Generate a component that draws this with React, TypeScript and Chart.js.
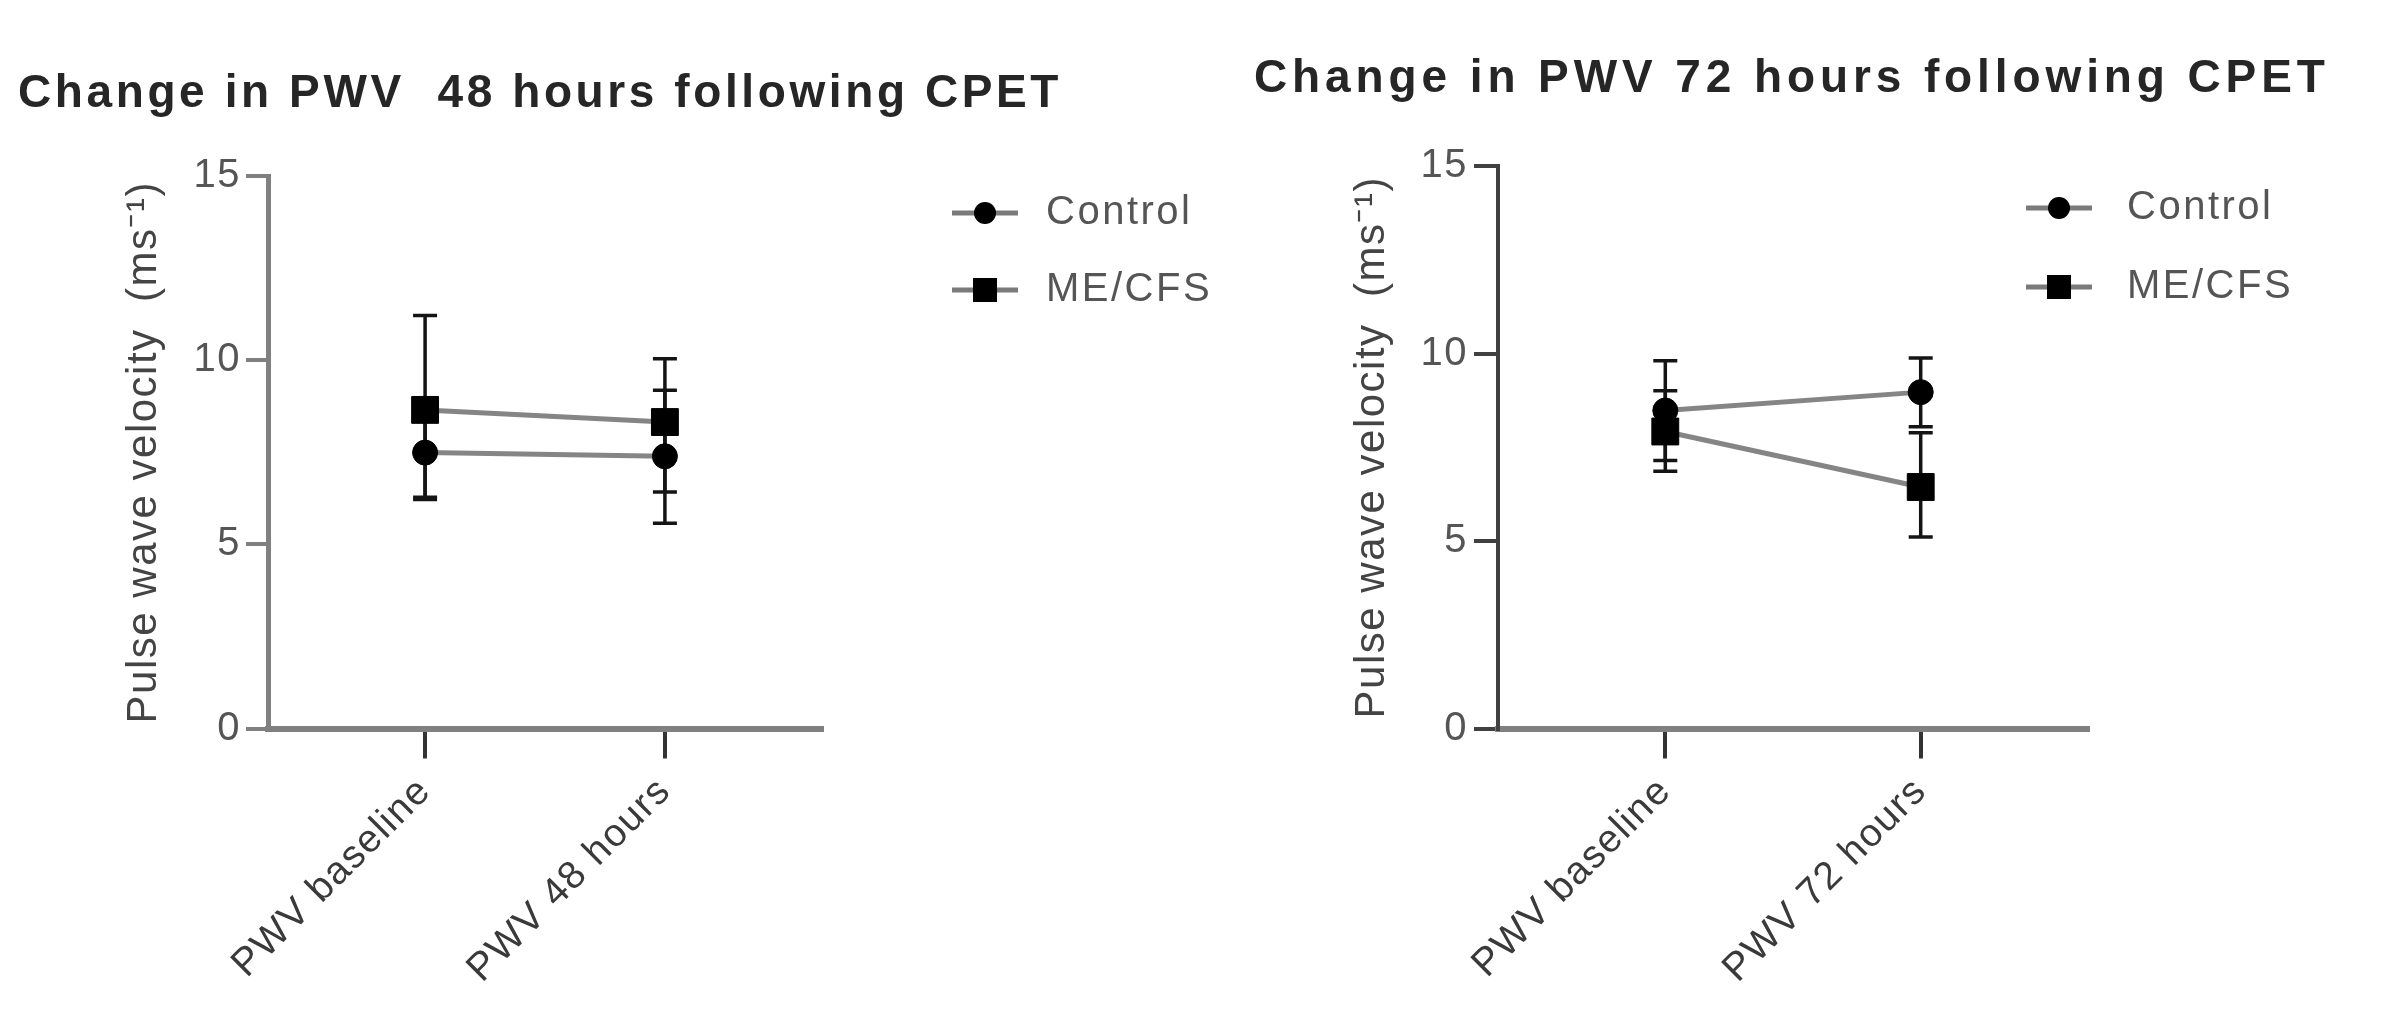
import React, { useEffect, useRef } from "react";
import { Chart, registerables } from "chart.js";

Chart.register(...registerables);

// ---------- data ----------
const seriesNames = ["Control", "ME/CFS"];
const categories48 = ["PWV baseline", "PWV 48 hours"];
const categories72 = ["PWV baseline", "PWV 72 hours"];
const yTickValues = [0, 5, 10, 15];
const title48 = "Change in PWV  48 hours following CPET";
const title72 = "Change in PWV 72 hours following CPET";
const yAxisTitle = "Pulse wave velocity  (ms\u207B\u00B9)";

const control48 = [7.49, 7.39];
const control48Low = [6.28, 5.57];
const control48High = [8.7, 9.18];
const mecfs48 = [8.65, 8.32];
const mecfs48Low = [6.22, 6.42];
const mecfs48High = [11.21, 10.04];

const control72 = [8.48, 8.97];
const control72Low = [7.15, 8.05];
const control72High = [9.81, 9.88];
const mecfs72 = [7.92, 6.44];
const mecfs72Low = [6.86, 5.11];
const mecfs72High = [9.01, 7.89];

// ---------- styling ----------
const FONT = '"Liberation Sans", Arial, Helvetica, sans-serif';
const H = 1031;

type Cfg = {
  left: number;
  width: number;
  title: string;
  titleX: number;
  titleY: number;
  titleSpacing: number;
  categories: string[];
  control: number[];
  controlLow: number[];
  controlHigh: number[];
  mecfs: number[];
  mecfsLow: number[];
  mecfsHigh: number[];
  areaLeft: number;
  areaRight: number;
  areaTop: number;
  areaBottom: number;
  yTitleX: number;
  yLabelPad: number;
  yTickLen: number;
  yBorderColor: string;
  yBorderWidth: number;
  legendMarkerX: number;
  legendYs: number[];
  legendTextX: number;
};

function PwvChart({ cfg }: { cfg: Cfg }) {
  const ref = useRef<HTMLCanvasElement | null>(null);

  useEffect(() => {
    if (!ref.current) return;
    const errLows = [cfg.controlLow, cfg.mecfsLow];
    const errHighs = [cfg.controlHigh, cfg.mecfsHigh];

    const spacingPlugin = {
      id: "spacing",
      beforeDraw(chart: any) {
        try {
          (chart.ctx as any).letterSpacing = "1.5px";
        } catch (e) {}
      },
    };

    const errorBarPlugin = {
      id: "errorBars",
      beforeDatasetsDraw(chart: any) {
        const ctx = chart.ctx;
        const xs = chart.scales.x;
        const ys = chart.scales.y;
        ctx.save();
        ctx.strokeStyle = "#141414";
        ctx.lineWidth = 3.5;
        errLows.forEach((lows, di) => {
          const highs = errHighs[di];
          lows.forEach((lo, i) => {
            const hi = highs[i];
            const px = xs.getPixelForValue(i);
            const pLo = ys.getPixelForValue(lo);
            const pHi = ys.getPixelForValue(hi);
            ctx.beginPath();
            ctx.moveTo(px, pLo);
            ctx.lineTo(px, pHi);
            ctx.moveTo(px - 12, pLo);
            ctx.lineTo(px + 12, pLo);
            ctx.moveTo(px - 12, pHi);
            ctx.lineTo(px + 12, pHi);
            ctx.stroke();
          });
        });
        ctx.restore();
      },
    };

    const titleLegendPlugin = {
      id: "titleLegend",
      afterDraw(chart: any) {
        const ctx = chart.ctx;
        ctx.save();
        try {
          (ctx as any).letterSpacing = `${cfg.titleSpacing}px`;
        } catch (e) {}
        ctx.font = `bold 46px ${FONT}`;
        ctx.fillStyle = "#262626";
        ctx.textAlign = "left";
        ctx.textBaseline = "middle";
        ctx.fillText(cfg.title, cfg.titleX, cfg.titleY);
        ctx.restore();

        seriesNames.forEach((name, i) => {
          const y = cfg.legendYs[i];
          const mx = cfg.legendMarkerX;
          ctx.save();
          ctx.strokeStyle = "#7a7a7a";
          ctx.lineWidth = 5;
          ctx.beginPath();
          ctx.moveTo(mx - 33, y);
          ctx.lineTo(mx + 33, y);
          ctx.stroke();
          ctx.fillStyle = "#000";
          if (i === 0) {
            ctx.beginPath();
            ctx.arc(mx, y, 11, 0, Math.PI * 2);
            ctx.fill();
          } else {
            ctx.fillRect(mx - 12, y - 12, 24, 24);
          }
          try {
            (ctx as any).letterSpacing = "2.5px";
          } catch (e) {}
          ctx.font = `40px ${FONT}`;
          ctx.fillStyle = "#555";
          ctx.textAlign = "left";
          ctx.textBaseline = "middle";
          ctx.fillText(name, cfg.legendTextX, y);
          ctx.restore();
        });
      },
    };

    const chart = new Chart(ref.current, {
      type: "line",
      data: {
        datasets: [
          {
            label: seriesNames[0],
            data: cfg.control.map((v, i) => ({ x: i, y: v })),
            borderColor: "#858585",
            borderWidth: 5,
            pointStyle: "circle",
            pointRadius: 12.5,
            pointBackgroundColor: "#000",
            pointBorderColor: "#000",
            pointBorderWidth: 1,
            tension: 0,
          },
          {
            label: seriesNames[1],
            data: cfg.mecfs.map((v, i) => ({ x: i, y: v })),
            borderColor: "#858585",
            borderWidth: 5,
            pointStyle: "rect",
            pointRadius: 19,
            pointBackgroundColor: "#000",
            pointBorderColor: "#000",
            pointBorderWidth: 1,
            tension: 0,
          },
        ],
      } as any,
      options: {
        responsive: false,
        animation: false,
        events: [],
        layout: {
          padding: { left: 0, top: cfg.areaTop, right: cfg.width - cfg.areaRight, bottom: 0 },
        },
        plugins: {
          legend: { display: false },
          title: { display: false },
          tooltip: { enabled: false },
        },
        scales: {
          x: {
            type: "linear",
            min: -0.655,
            max: 1.655,
            afterBuildTicks: (s: any) => {
              s.ticks = cfg.categories.map((_, i) => ({ value: i }));
            },
            afterFit: (s: any) => {
              s.height = H - cfg.areaBottom;
            },
            ticks: {
              autoSkip: false,
              minRotation: 45,
              maxRotation: 45,
              padding: 10,
              color: "#3a3a3a",
              font: { family: FONT, size: 39 },
              callback: (v: any) => cfg.categories[Number(v)] ?? "",
            },
            grid: {
              drawOnChartArea: false,
              drawTicks: true,
              tickLength: 30,
              color: "#333",
              lineWidth: 4,
            },
            border: { display: true, color: "#808080", width: 6 },
          },
          y: {
            type: "linear",
            min: 0,
            max: 15,
            afterBuildTicks: (s: any) => {
              s.ticks = yTickValues.map((v) => ({ value: v }));
            },
            afterFit: (s: any) => {
              s.width = cfg.areaLeft;
            },
            ticks: {
              padding: cfg.yLabelPad,
              color: "#555",
              font: { family: FONT, size: 40 },
            },
            grid: {
              drawOnChartArea: false,
              drawTicks: true,
              tickLength: cfg.yTickLen,
              color: cfg.yBorderColor,
              lineWidth: 4,
            },
            border: { display: true, color: cfg.yBorderColor, width: cfg.yBorderWidth },
            title: {
              display: true,
              text: yAxisTitle,
              color: "#444",
              font: { family: FONT, size: 42 },
              padding: { top: cfg.yTitleX - 25.2, bottom: 0 },
            },
          },
        },
      } as any,
      plugins: [spacingPlugin, errorBarPlugin, titleLegendPlugin],
    });
    return () => chart.destroy();
  }, [cfg]);

  return (
    <canvas
      ref={ref}
      width={cfg.width}
      height={H}
      style={{ position: "absolute", left: cfg.left, top: 0, width: cfg.width, height: H }}
    />
  );
}

const cfg48: Cfg = {
  left: 0,
  width: 1240,
  title: title48,
  titleX: 18,
  titleY: 94,
  titleSpacing: 3.6,
  categories: categories48,
  control: control48,
  controlLow: control48Low,
  controlHigh: control48High,
  mecfs: mecfs48,
  mecfsLow: mecfs48Low,
  mecfsHigh: mecfs48High,
  areaLeft: 268,
  areaRight: 822,
  areaTop: 176,
  areaBottom: 728.5,
  yTitleX: 144,
  yLabelPad: 5,
  yTickLen: 22,
  yBorderColor: "#808080",
  yBorderWidth: 5,
  legendMarkerX: 985,
  legendYs: [213, 290],
  legendTextX: 1046,
};

const cfg72: Cfg = {
  left: 1240,
  width: 1143,
  title: title72,
  titleX: 14,
  titleY: 79,
  titleSpacing: 4.9,
  categories: categories72,
  control: control72,
  controlLow: control72Low,
  controlHigh: control72High,
  mecfs: mecfs72,
  mecfsLow: mecfs72Low,
  mecfsHigh: mecfs72High,
  areaLeft: 258,
  areaRight: 848,
  areaTop: 166,
  areaBottom: 728.5,
  yTitleX: 132,
  yLabelPad: 6,
  yTickLen: 24,
  yBorderColor: "#404040",
  yBorderWidth: 4,
  legendMarkerX: 819,
  legendYs: [208, 287],
  legendTextX: 887,
};

export default function App() {
  return (
    <div
      style={{
        position: "fixed",
        left: 0,
        top: 0,
        width: 2383,
        height: H,
        background: "#fff",
        overflow: "hidden",
      }}
    >
      <PwvChart cfg={cfg48} />
      <PwvChart cfg={cfg72} />
    </div>
  );
}
